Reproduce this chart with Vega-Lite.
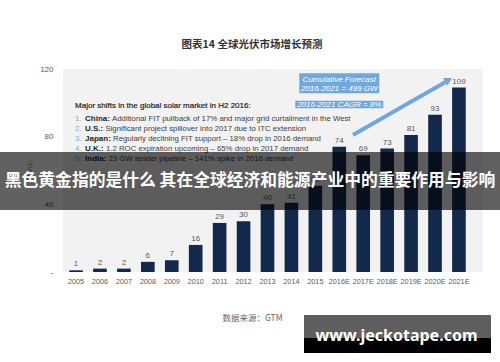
{
  "$schema": "https://vega.github.io/schema/vega-lite/v6.json",
  "width": 420,
  "height": 203,
  "autosize": {"type": "none"},
  "padding": {"left": 63, "top": 69, "right": 17, "bottom": 90},
  "background": "white",
  "config": {"view": {"fill": "#f2f2f2", "stroke": null}, "font": "Liberation Sans, sans-serif"},
  "title": {"text": "图表14  全球光伏市场增长预测", "font": "Noto Sans CJK SC", "fontSize": 10.5, "fontWeight": "bold", "color": "#333333", "anchor": "middle", "dx": -21, "offset": 15},
  "data": {"values": [
    {"year": "2005", "value": 1}, {"year": "2006", "value": 2}, {"year": "2007", "value": 2},
    {"year": "2008", "value": 6}, {"year": "2009", "value": 7}, {"year": "2010", "value": 16},
    {"year": "2011", "value": 29}, {"year": "2012", "value": 30}, {"year": "2013", "value": 40},
    {"year": "2014", "value": 41}, {"year": "2015", "value": 51}, {"year": "2016E", "value": 74},
    {"year": "2017E", "value": 69}, {"year": "2018E", "value": 73}, {"year": "2019E", "value": 81},
    {"year": "2020E", "value": 93}, {"year": "2021E", "value": 109}
  ]},
  "layer": [
    {
      "layer": [
        {
          "mark": {"type": "bar", "color": "#13294b"},
          "encoding": {
            "x": {"field": "year", "type": "nominal", "sort": null,
              "scale": {"domain": ["2005","2006","2007","2008","2009","2010","2011","2012","2013","2014","2015","2016E","2017E","2018E","2019E","2020E","2021E"], "paddingInner": 0.43, "paddingOuter": 0.49, "align": 0.265},
              "axis": {"title": "数据来源：GTM", "labelAngle": 0, "labelPadding": 5, "labelFontSize": 7.3, "labelColor": "#595959", "ticks": false, "domain": false, "titleFont": "Noto Sans CJK SC", "titleFontSize": 8.5, "titleFontWeight": "normal", "titleColor": "#666666", "titlePadding": 29, "titleX": 189}},
            "y": {"field": "value", "type": "quantitative", "scale": {"domain": [0, 120], "nice": false},
              "axis": {"values": [0,20,40,60,80,100,120], "labelExpr": "datum.value == 0 ? '-' : datum.label", "grid": false, "domain": false, "ticks": false, "labelPadding": 10, "labelFontSize": 8, "labelColor": "#595959", "title": "GWdc", "titleFontSize": 8, "titleFontWeight": "normal", "titleColor": "#a6a6a6", "titlePadding": 6}}
          }
        },
        {
          "mark": {"type": "text", "dy": -4, "baseline": "alphabetic", "fontSize": 8, "color": "#595959"},
          "encoding": {
            "x": {"field": "year", "type": "nominal", "sort": null},
            "y": {"field": "value", "type": "quantitative"},
            "text": {"field": "value", "type": "quantitative"}
          }
        },
        {
          "data": {"values": [{}]},
          "mark": {"type": "text", "align": "left", "baseline": "middle", "dx": -1, "fontSize": 8, "color": "#1f1f1f", "stroke": "#1f1f1f", "strokeWidth": 0.2},
          "encoding": {
            "x": {"datum": "2005"},
            "y": {"datum": 98.2},
            "text": {"value": "Major shifts in the global solar market in H2 2016:"}
          }
        },
        {
          "data": {"values": [{}]},
          "mark": {"type": "text", "align": "left", "baseline": "middle", "dx": -1, "fontSize": 8, "lineHeight": 10, "color": "#8eaacb"},
          "encoding": {
            "x": {"datum": "2005"},
            "y": {"datum": 90.3},
            "text": {"value": ["1.", "2.", "3.", "4.", "5."]}
          }
        },
        {
          "data": {"values": [{}]},
          "mark": {"type": "text", "align": "left", "baseline": "middle", "dx": 9, "fontSize": 8, "fontWeight": "bold", "lineHeight": 10, "color": "#1f1f1f"},
          "encoding": {
            "x": {"datum": "2005"},
            "y": {"datum": 90.3},
            "text": {"value": ["China:", "U.S.:", "Japan:", "U.K.:", "India:"]}
          }
        },
        {
          "data": {"values": [{}]},
          "mark": {"type": "text", "align": "left", "baseline": "middle", "dx": 36, "fontSize": 7.8, "color": "#404040"},
          "encoding": {
            "x": {"datum": "2005"},
            "y": {"datum": 90.3},
            "text": {"value": "Additional FIT pullback of 17% and major grid curtailment in the West"}
          }
        },
        {
          "data": {"values": [{}]},
          "mark": {"type": "text", "align": "left", "baseline": "middle", "dx": 29.4, "fontSize": 7.8, "color": "#404040"},
          "encoding": {
            "x": {"datum": "2005"},
            "y": {"datum": 84.4},
            "text": {"value": "Significant project spillover into 2017 due to ITC extension"}
          }
        },
        {
          "data": {"values": [{}]},
          "mark": {"type": "text", "align": "left", "baseline": "middle", "dx": 37, "fontSize": 7.8, "color": "#404040"},
          "encoding": {
            "x": {"datum": "2005"},
            "y": {"datum": 78.5},
            "text": {"value": "Regularly declining FIT support – 18% drop in 2016 demand"}
          }
        },
        {
          "data": {"values": [{}]},
          "mark": {"type": "text", "align": "left", "baseline": "middle", "dx": 29.9, "fontSize": 7.8, "color": "#404040"},
          "encoding": {
            "x": {"datum": "2005"},
            "y": {"datum": 72.6},
            "text": {"value": "1.2 ROC expiration upcoming – 65% drop in 2017 demand"}
          }
        },
        {
          "data": {"values": [{}]},
          "mark": {"type": "text", "align": "left", "baseline": "middle", "dx": 32.5, "fontSize": 7.8, "color": "#404040"},
          "encoding": {
            "x": {"datum": "2005"},
            "y": {"datum": 66.7},
            "text": {"value": "23 GW tender pipeline – 141% spike in 2016 demand"}
          }
        },
        {
          "data": {"values": [{}]},
          "mark": {"type": "bar", "width": 80, "color": "#6fa8dc"},
          "encoding": {
            "x": {"datum": "2016E"},
            "y": {"datum": 117.5},
            "y2": {"datum": 105.6}
          }
        },
        {
          "data": {"values": [{}]},
          "mark": {"type": "text", "align": "center", "baseline": "middle", "fontSize": 8, "lineHeight": 9, "fontStyle": "italic", "color": "white"},
          "encoding": {
            "x": {"datum": "2016E"},
            "y": {"datum": 113.5},
            "text": {"value": ["Cumulative Forecast", "2016-2021 = 499 GW"]}
          }
        },
        {
          "data": {"values": [{}]},
          "mark": {"type": "bar", "width": 88, "color": "#6fa8dc"},
          "encoding": {
            "x": {"datum": "2016E"},
            "y": {"datum": 101.3},
            "y2": {"datum": 96.8}
          }
        },
        {
          "data": {"values": [{}]},
          "mark": {"type": "text", "align": "center", "baseline": "middle", "fontSize": 8, "fontStyle": "italic", "color": "white"},
          "encoding": {
            "x": {"datum": "2016E"},
            "y": {"datum": 99.0},
            "text": {"value": "2016-2021 CAGR = 8%"}
          }
        },
        {
          "data": {"values": [{}]},
          "mark": {"type": "rule", "color": "#6fa8dc", "strokeWidth": 4},
          "encoding": {
            "x": {"datum": "2016E", "bandPosition": 1.5},
            "x2": {"datum": "2020E", "bandPosition": 1.4},
            "y": {"datum": 81},
            "y2": {"datum": 112.9}
          }
        },
        {
          "data": {"values": [{}]},
          "mark": {"type": "point", "shape": "triangle-up", "angle": 61, "size": 80, "filled": true, "opacity": 1, "color": "#6fa8dc"},
          "encoding": {
            "x": {"datum": "2020E", "bandPosition": 1.5},
            "y": {"datum": 113.5}
          }
        }
      ]
    },
    {
      "layer": [
        {
          "data": {"values": [{}]},
          "mark": {"type": "rect", "color": "black", "opacity": 0.62},
          "encoding": {
            "x": {"datum": 0, "type": "quantitative", "scale": {"domain": [0.126, 0.966]}, "axis": null},
            "x2": {"datum": 1},
            "y": {"datum": 0.5801, "type": "quantitative", "scale": {"domain": [0.24862, 0.80939]}, "axis": null},
            "y2": {"datum": 0.4199}
          }
        },
        {
          "data": {"values": [{}]},
          "mark": {"type": "text", "align": "center", "baseline": "middle", "font": "Noto Sans CJK SC", "fontSize": 16.8, "fontWeight": "bold", "color": "white"},
          "encoding": {
            "x": {"datum": 0.5, "type": "quantitative", "scale": {"domain": [0.126, 0.966]}, "axis": null},
            "y": {"datum": 0.5, "type": "quantitative", "scale": {"domain": [0.24862, 0.80939]}, "axis": null},
            "text": {"value": "黑色黄金指的是什么 其在全球经济和能源产业中的重要作用与影响"}
          }
        },
        {
          "data": {"values": [{}]},
          "mark": {"type": "rect", "color": "#5e5e5e", "opacity": 1},
          "encoding": {
            "x": {"datum": 0.608, "type": "quantitative", "scale": {"domain": [0.126, 0.966]}, "axis": null},
            "x2": {"datum": 0.982},
            "y": {"datum": 0.1298, "type": "quantitative", "scale": {"domain": [0.24862, 0.80939]}, "axis": null},
            "y2": {"datum": 0.0663}
          }
        },
        {
          "data": {"values": [{}]},
          "mark": {"type": "rect", "color": "black", "opacity": 1},
          "encoding": {
            "x": {"datum": 0.608, "type": "quantitative", "scale": {"domain": [0.126, 0.966]}, "axis": null},
            "x2": {"datum": 0.982},
            "y": {"datum": 0.0663, "type": "quantitative", "scale": {"domain": [0.24862, 0.80939]}, "axis": null},
            "y2": {"datum": 0.0249}
          }
        },
        {
          "data": {"values": [{}]},
          "mark": {"type": "text", "align": "center", "baseline": "middle", "font": "Noto Sans", "fontSize": 16, "fontWeight": "bold", "color": "white"},
          "encoding": {
            "x": {"datum": 0.793, "type": "quantitative", "scale": {"domain": [0.126, 0.966]}, "axis": null},
            "y": {"datum": 0.0718, "type": "quantitative", "scale": {"domain": [0.24862, 0.80939]}, "axis": null},
            "text": {"value": "www.jeckotape.com"}
          }
        }
      ]
    }
  ],
  "resolve": {"scale": {"x": "independent", "y": "independent"}}
}
